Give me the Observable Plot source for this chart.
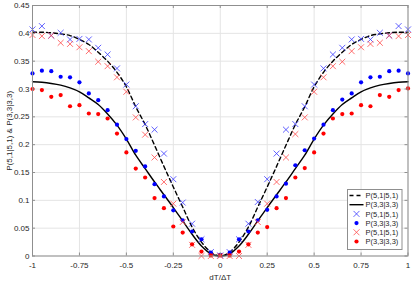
<!DOCTYPE html>
<html><head><meta charset="utf-8">
<script src="https://cdn.jsdelivr.net/npm/d3@7"></script>
<script src="https://cdn.jsdelivr.net/npm/@observablehq/plot@0.6"></script>
<style>
body{margin:0;background:#fff;}
#chart{position:relative;width:415px;height:284px;}
#chart svg{font-family:"Liberation Sans",Arial,sans-serif;}
#legend{position:absolute;left:0;top:0;pointer-events:none;}
</style></head><body><div id="chart"></div>
<script>
// x positions dT/ΔT
const xValues = [-1,-0.95,-0.9,-0.85,-0.8,-0.75,-0.7,-0.65,-0.6,-0.55,-0.5,-0.45,-0.4,-0.35,-0.3,-0.25,-0.2,-0.15,-0.1,-0.05,0,
  0.05,0.1,0.15,0.2,0.25,0.3,0.35,0.4,0.45,0.5,0.55,0.6,0.65,0.7,0.75,0.8,0.85,0.9,0.95,1];
// theory curve P(5,1|5,1) (dashed)
const theory51 = [0.402,0.402,0.401,0.399,0.396,0.389,0.380,0.366,0.350,0.330,0.304,0.268,0.236,0.199,0.161,0.124,0.088,0.052,0.025,0.007,0,
  0.007,0.025,0.052,0.088,0.124,0.161,0.199,0.236,0.268,0.304,0.330,0.350,0.366,0.380,0.389,0.396,0.399,0.401,0.402,0.402];
// theory curve P(3,3|3,3) (solid)
const theory33 = [0.313,0.312,0.310,0.307,0.302,0.295,0.284,0.272,0.255,0.235,0.210,0.181,0.157,0.133,0.110,0.087,0.063,0.039,0.018,0.004,0,
  0.004,0.018,0.039,0.063,0.087,0.110,0.133,0.157,0.181,0.210,0.235,0.255,0.272,0.284,0.295,0.302,0.307,0.310,0.312,0.313];
// measured P(5,1|5,1), blue crosses
const blueCross = [0.407,0.413,0.396,0.401,0.389,0.390,0.389,0.374,0.362,0.337,0.308,0.269,0.237,0.227,0.184,0.138,0.096,0.058,0.030,0.007,0.001,
  0.007,0.030,0.058,0.097,0.138,0.184,0.227,0.237,0.269,0.308,0.337,0.362,0.374,0.389,0.390,0.389,0.401,0.396,0.413,0.407];
// measured P(3,3|3,3), blue dots
const blueDot = [0.328,0.333,0.332,0.322,0.321,0.312,0.292,0.280,0.262,0.236,0.210,0.189,0.161,0.129,0.107,0.082,0.064,0.044,0.030,0.006,0.002,
  0.006,0.030,0.044,0.064,0.083,0.107,0.130,0.163,0.190,0.211,0.236,0.262,0.281,0.292,0.312,0.321,0.322,0.332,0.333,0.328];
// measured P(5,1|5,1), red crosses
const redCross = [0.397,0.395,0.396,0.383,0.381,0.375,0.368,0.349,0.341,0.321,0.295,0.249,0.218,0.177,0.133,0.094,0.061,0.020,0.000,0.000,0.000,
  0.000,0.000,0.020,0.061,0.094,0.133,0.177,0.219,0.249,0.295,0.321,0.341,0.349,0.368,0.375,0.381,0.383,0.396,0.395,0.397];
// measured P(3,3|3,3), red dots
const redDot = [0.300,0.298,0.286,0.289,0.269,0.271,0.256,0.255,0.247,0.220,0.186,0.157,0.141,0.104,0.086,0.053,0.042,0.021,0.008,0.001,0.001,
  0.001,0.008,0.021,0.042,0.052,0.086,0.104,0.141,0.158,0.186,0.220,0.247,0.255,0.256,0.271,0.269,0.289,0.286,0.298,0.301];

const xTicks = [-1,-0.75,-0.5,-0.25,0,0.25,0.5,0.75,1];
const xTickLabels = ["-1","-0.75","-0.5","-0.25","0","0.25","0.5","0.75","1"];
const yTicks = [0,0.05,0.1,0.15,0.2,0.25,0.3,0.35,0.4,0.45];
const yTickLabels = ["0","0.05","0.1","0.15","0.2","0.25","0.3","0.35","0.4","0.45"];
const xLabel = "dT/ΔT";
const yLabel = "P(5,1|5,1) & P(3,3|3,3)";
const legendLabels = ["P(5,1|5,1)","P(3,3|3,3)","P(5,1|5,1)","P(3,3|3,3)","P(5,1|5,1)","P(3,3|3,3)"];

const rows = xValues.map((x, i) => ({x, t51: theory51[i], t33: theory33[i], bc: blueCross[i], bd: blueDot[i], rc: redCross[i], rd: redDot[i]}));

const TXT = "#262626";
const AX = "#8f8f8f";
const BLUEX = "#3a3aff", REDX = "#ff4a4a";

const chart = Plot.plot({
  width: 415, height: 284,
  marginLeft: 32, marginRight: 7.5, marginTop: 5, marginBottom: 28.5,
  x: {domain: [-1, 1]},
  y: {domain: [0, 0.45]},
  style: {fontFamily: '"Liberation Sans", Arial, sans-serif', fontSize: "8px", color: TXT, background: "#fff"},
  marks: [
    Plot.gridX(xTicks, {stroke: "#e4e4e4", strokeOpacity: 1}),
    Plot.gridY(yTicks, {stroke: "#e4e4e4", strokeOpacity: 1}),
    Plot.line(rows, {x: "x", y: "t51", stroke: "#000", strokeWidth: 1.4, strokeDasharray: "4,3", curve: "catmull-rom"}),
    Plot.line(rows, {x: "x", y: "t33", stroke: "#000", strokeWidth: 1.4, curve: "catmull-rom"}),
    Plot.dot(rows, {x: "x", y: "bc", symbol: "times", r: 2.8, stroke: BLUEX, strokeWidth: 0.8}),
    Plot.dot(rows, {x: "x", y: "bd", r: 2.1, fill: "#0000ff", stroke: null}),
    Plot.dot(rows, {x: "x", y: "rc", symbol: "times", r: 2.8, stroke: REDX, strokeWidth: 0.8}),
    Plot.dot(rows, {x: "x", y: "rd", r: 2.1, fill: "#ff0000", stroke: null}),
    Plot.frame({stroke: AX}),
    Plot.ruleX(xTicks, {x: d => d, y1: 0, y2: 0, insetTop: -3, stroke: AX}),
    Plot.ruleX(xTicks, {x: d => d, y1: 0.45, y2: 0.45, insetBottom: -3, stroke: AX}),
    Plot.ruleY(yTicks, {y: d => d, x1: -1, x2: -1, insetRight: -3, stroke: AX}),
    Plot.ruleY(yTicks, {y: d => d, x1: 1, x2: 1, insetLeft: -3, stroke: AX}),
    Plot.axisX({ticks: xTicks, tickSize: 0, tickPadding: 6, tickFormat: d => xTickLabels[xTicks.indexOf(d)],
      label: xLabel, labelAnchor: "center", labelOffset: 24, labelArrow: "none", fontSize: 8}),
    Plot.axisY({ticks: yTicks, tickSize: 0, tickPadding: 3, tickFormat: d => yTickLabels[yTicks.indexOf(d)],
      label: yLabel, labelAnchor: "center", labelOffset: 26, labelArrow: "none", fontSize: 8})
  ]
});
document.getElementById("chart").appendChild(chart);

// legend overlay
const lg = d3.select("#chart").append("svg").attr("id", "legend").attr("width", 415).attr("height", 284)
  .style("font-family", '"Liberation Sans", Arial, sans-serif');
const box = {x: 347.5, y: 189.5, w: 54.5, h: 60};
lg.append("rect").attr("x", box.x).attr("y", box.y).attr("width", box.w).attr("height", box.h)
  .attr("fill", "#fff").attr("stroke", AX).attr("stroke-width", 1);
const rowY = i => 195.5 + i * 9.2;
const sx1 = 349.5, sx2 = 363.5, sxm = 356.5, tx = 365.5;
legendLabels.forEach((lab, i) => {
  const y = rowY(i);
  const g = lg.append("g");
  if (i === 0) g.append("line").attr("x1", sx1).attr("x2", sx2).attr("y1", y).attr("y2", y).attr("stroke", "#000").attr("stroke-width", 1.4).attr("stroke-dasharray", "4,3");
  if (i === 1) g.append("line").attr("x1", sx1).attr("x2", sx2).attr("y1", y).attr("y2", y).attr("stroke", "#000").attr("stroke-width", 1.4);
  if (i === 2 || i === 4) g.append("path").attr("d", d3.symbol(d3.symbolTimes, Math.PI * 2.8 * 2.8)()).attr("transform", `translate(${sxm},${y})`)
    .attr("fill", "none").attr("stroke", i === 2 ? BLUEX : REDX).attr("stroke-width", 0.8);
  if (i === 3 || i === 5) g.append("circle").attr("cx", sxm).attr("cy", y).attr("r", 2.1).attr("fill", i === 3 ? "#0000ff" : "#ff0000");
  g.append("text").attr("x", tx).attr("y", y).attr("dy", "0.35em").attr("font-size", 7.5).attr("fill", TXT).text(lab);
});
</script></body></html>
